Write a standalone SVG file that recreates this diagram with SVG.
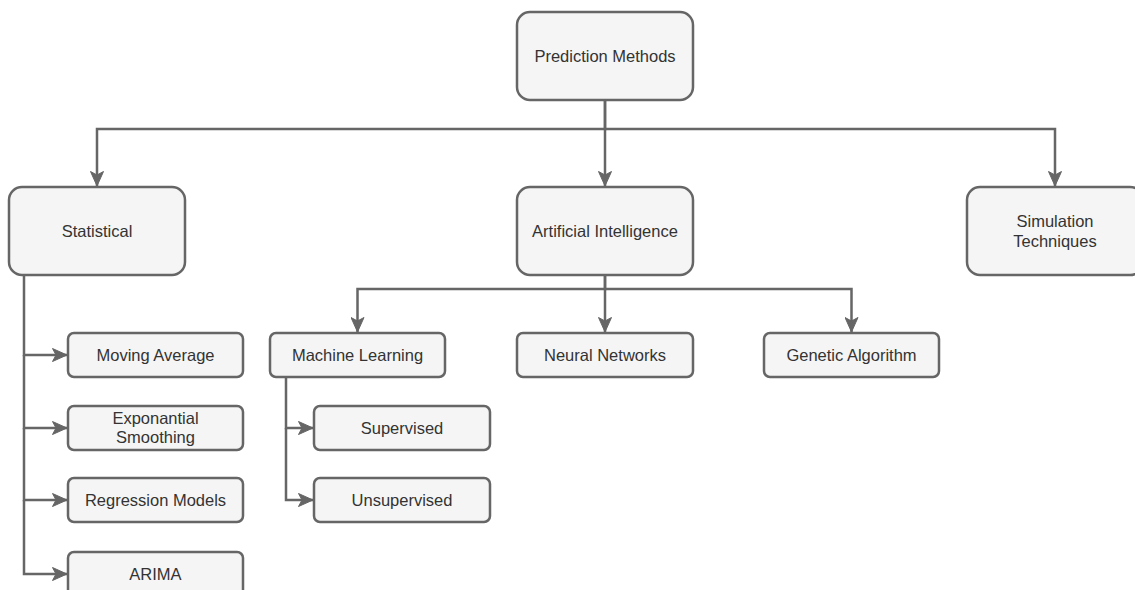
<svg xmlns="http://www.w3.org/2000/svg" width="1135" height="590" viewBox="0 0 1135 590">
<style>
.n rect{fill:#f5f5f5;stroke:#666;stroke-width:2.5}
.n text{font-family:"Liberation Sans",Arial,sans-serif;font-size:16.5px;fill:#333;text-anchor:middle;dominant-baseline:central}
.c path{fill:none;stroke:#666;stroke-width:2.5;marker-end:url(#a)}
</style>
<defs>
<marker id="a" viewBox="0 0 16 14" markerWidth="16" markerHeight="14" refX="15" refY="7" orient="auto" markerUnits="userSpaceOnUse">
<path d="M0.5,0.5 L15,7 L0.5,13.5 L4,7 Z" fill="#666" stroke="#666" stroke-width="1"/>
</marker>
</defs>
<rect width="1135" height="590" fill="#fff"/>
<g class="c" id="connectors">
<path d="M605,100 V129 H97 V186"/>
<path d="M605,100 V186"/>
<path d="M605,129 H1055 V186"/>
<path d="M605,275 V289 H357.5 V332"/>
<path d="M605,275 V332"/>
<path d="M605,289 H851.5 V332"/>
<path d="M24,275 V355 H67"/>
<path d="M24,355 V428 H67"/>
<path d="M24,428 V500 H67"/>
<path d="M24,500 V574 H67"/>
<path d="M286,377 V428 H313"/>
<path d="M286,428 V500 H313"/>
</g>
<g class="n" id="prediction"><rect x="517" y="12" width="176" height="88" rx="13"/><text x="605" y="56">Prediction Methods</text></g>
<g class="n" id="statistical"><rect x="9" y="187" width="176" height="88" rx="13"/><text x="97" y="231">Statistical</text></g>
<g class="n" id="ai"><rect x="517" y="187" width="176" height="88" rx="13"/><text x="605" y="231">Artificial Intelligence</text></g>
<g class="n" id="simulation"><rect x="967" y="187" width="176" height="88" rx="13"/><text x="1055" y="221">Simulation</text><text x="1055" y="241">Techniques</text></g>
<g class="n" id="ml"><rect x="270" y="333" width="175" height="44" rx="6"/><text x="357.5" y="355">Machine Learning</text></g>
<g class="n" id="nn"><rect x="517" y="333" width="176" height="44" rx="6"/><text x="605" y="355">Neural Networks</text></g>
<g class="n" id="ga"><rect x="764" y="333" width="175" height="44" rx="6"/><text x="851.5" y="355">Genetic Algorithm</text></g>
<g class="n" id="ma"><rect x="68" y="333" width="175" height="44" rx="6"/><text x="155.5" y="355">Moving Average</text></g>
<g class="n" id="es"><rect x="68" y="406" width="175" height="44" rx="6"/><text x="155.5" y="418">Exponantial</text><text x="155.5" y="437">Smoothing</text></g>
<g class="n" id="rm"><rect x="68" y="478" width="175" height="44" rx="6"/><text x="155.5" y="500">Regression Models</text></g>
<g class="n" id="arima"><rect x="68" y="552" width="175" height="44" rx="6"/><text x="155.5" y="574">ARIMA</text></g>
<g class="n" id="sup"><rect x="314" y="406" width="176" height="44" rx="6"/><text x="402" y="428">Supervised</text></g>
<g class="n" id="unsup"><rect x="314" y="478" width="176" height="44" rx="6"/><text x="402" y="500">Unsupervised</text></g>
</svg>
